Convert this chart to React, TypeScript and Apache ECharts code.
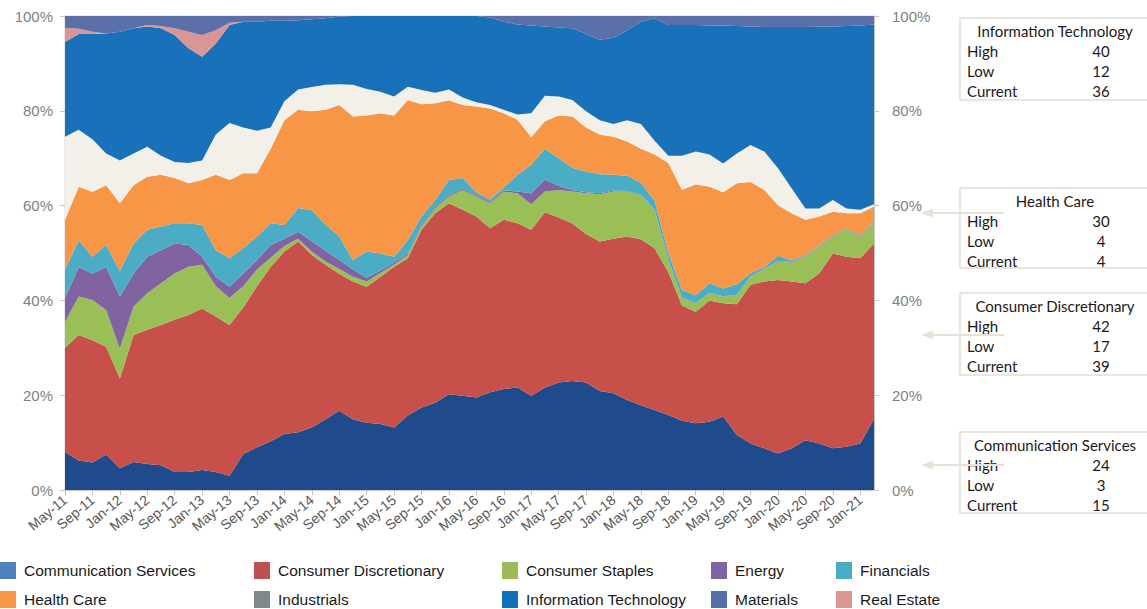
import React, { useEffect, useRef } from "react";
import * as echarts from "echarts";

const dates = [
  "May-11", "Jul-11", "Sep-11", "Nov-11",
  "Jan-12", "Mar-12", "May-12", "Jul-12", "Sep-12", "Nov-12",
  "Jan-13", "Mar-13", "May-13", "Jul-13", "Sep-13", "Nov-13",
  "Jan-14", "Mar-14", "May-14", "Jul-14", "Sep-14", "Nov-14",
  "Jan-15", "Mar-15", "May-15", "Jul-15", "Sep-15", "Nov-15",
  "Jan-16", "Mar-16", "May-16", "Jul-16", "Sep-16", "Nov-16",
  "Jan-17", "Mar-17", "May-17", "Jul-17", "Sep-17", "Nov-17",
  "Jan-18", "Mar-18", "May-18", "Jul-18", "Sep-18", "Nov-18",
  "Jan-19", "Mar-19", "May-19", "Jul-19", "Sep-19", "Nov-19",
  "Jan-20", "Mar-20", "May-20", "Jul-20", "Sep-20", "Nov-20",
  "Jan-21", "Mar-21",
];

const commServices = [
  8.0, 6.2, 5.8, 7.5, 4.6, 5.9, 5.5, 5.2, 3.8, 3.8,
  4.2, 3.8, 3.0, 7.6, 9.0, 10.3, 11.8, 12.2, 13.2, 14.9,
  16.7, 14.9, 14.2, 13.9, 13.2, 15.7, 17.4, 18.4, 20.2, 19.9,
  19.5, 20.6, 21.3, 21.6, 19.9, 21.6, 22.7, 23.0, 22.7, 20.9,
  20.4, 19.0, 17.9, 16.9, 15.8, 14.6, 14.1, 14.4, 15.5, 11.6,
  9.8, 8.8, 7.7, 8.8, 10.5, 9.8, 8.8, 9.1, 9.8, 15.0,
];
const consumerDiscretionary = [
  22.0, 26.5, 25.8, 22.7, 18.9, 26.8, 28.3, 29.6, 32.1, 33.1,
  34.1, 32.8, 31.8, 30.9, 34.0, 36.8, 38.5, 40.2, 36.4, 32.6,
  28.9, 29.1, 28.7, 31.1, 33.9, 33.2, 37.5, 40.0, 40.3, 39.2,
  38.2, 34.6, 35.7, 34.7, 35.0, 37.0, 34.8, 33.2, 31.3, 31.5,
  32.6, 34.5, 35.0, 34.1, 30.2, 24.3, 23.5, 25.6, 23.9, 27.6,
  33.5, 35.2, 36.6, 35.2, 33.1, 35.9, 41.1, 40.1, 39.1, 37.0,
];
const consumerStaples = [
  5.5, 8.1, 8.5, 7.8, 6.3, 6.0, 7.7, 8.8, 9.8, 10.2,
  9.2, 6.4, 5.7, 4.5, 3.5, 1.9, 1.2, 0.6, 0.7, 0.7,
  1.0, 1.0, 1.1, 0.8, 0.5, 0.7, 0.7, 1.0, 1.4, 4.2,
  4.2, 5.3, 5.9, 6.3, 5.4, 4.4, 5.8, 6.8, 8.6, 10.0,
  10.0, 9.5, 9.3, 8.1, 2.5, 1.6, 1.8, 1.5, 1.4, 1.9,
  1.7, 2.6, 3.9, 4.0, 5.6, 5.6, 3.5, 5.7, 4.5, 4.5,
];
const energy = [
  5.0, 6.2, 5.6, 9.1, 11.0, 7.0, 7.7, 7.0, 6.3, 4.6,
  1.7, 2.0, 2.4, 2.7, 2.0, 2.7, 1.5, 1.5, 2.2, 2.3,
  1.9, 1.5, 0.8, 0.5, 0.4, 0.3, 0.3, 0.3, 0.3, 0.3,
  0.3, 0.3, 0.3, 0.4, 2.3, 2.5, 0.9, 0.3, 0.2, 0.2,
  0.2, 0.1, 0.1, 0.1, 0.1, 0.1, 0.1, 0.1, 0.1, 0.1,
  0.1, 0.1, 0.1, 0.1, 0.1, 0.1, 0.1, 0.1, 0.1, 0.1,
];
const financials = [
  6.0, 5.7, 3.5, 4.6, 5.4, 6.3, 5.7, 5.0, 4.3, 4.6,
  6.7, 5.6, 6.0, 5.3, 5.0, 4.6, 2.9, 5.0, 6.5, 5.5,
  5.0, 2.0, 5.5, 3.6, 1.2, 2.8, 1.8, 1.5, 3.2, 2.2,
  0.6, 0.5, 0.6, 3.5, 6.0, 6.5, 5.8, 4.7, 4.4, 4.0,
  3.3, 3.2, 2.5, 1.8, 1.4, 1.6, 1.6, 2.0, 1.6, 2.2,
  0.7, 0.3, 1.1, 0.3, 0.2, 0.2, 0.2, 0.2, 0.2, 0.2,
];
const healthCare = [
  10.5, 11.3, 13.7, 12.6, 14.3, 12.3, 11.2, 10.9, 9.5, 8.4,
  9.5, 15.9, 16.5, 15.8, 13.3, 15.7, 22.1, 20.7, 20.9, 24.2,
  27.7, 30.3, 28.7, 29.6, 29.8, 29.6, 23.7, 20.4, 16.8, 15.4,
  18.1, 19.2, 15.7, 11.6, 5.8, 5.8, 9.0, 10.8, 9.3, 8.4,
  8.0, 7.2, 7.2, 9.8, 19.0, 21.1, 23.4, 20.4, 20.3, 21.3,
  19.2, 16.3, 10.7, 10.0, 7.5, 6.1, 5.0, 3.2, 4.7, 3.0,
];
const industrials = [
  17.5, 12.0, 11.1, 6.7, 9.0, 6.7, 6.3, 4.0, 3.4, 4.3,
  4.1, 8.5, 12.0, 9.7, 9.0, 4.5, 4.0, 4.3, 5.1, 5.3,
  4.4, 6.7, 5.6, 4.5, 4.0, 2.8, 3.0, 2.2, 2.3, 1.6,
  0.9, 0.7, 0.7, 1.1, 5.1, 5.4, 4.0, 3.5, 3.4, 3.0,
  2.7, 4.5, 5.2, 2.9, 1.5, 7.2, 6.9, 6.8, 6.1, 6.3,
  7.8, 8.1, 7.8, 5.2, 2.4, 1.7, 2.5, 1.0, 0.7, 0.5,
];
const informationTechnology = [
  20.0, 20.2, 22.2, 25.3, 27.2, 26.4, 25.4, 26.9, 26.8, 24.2,
  21.9, 19.2, 20.7, 22.3, 23.0, 22.5, 17.0, 14.6, 14.3, 14.0,
  14.3, 14.5, 15.4, 16.0, 17.0, 14.9, 15.6, 16.2, 15.5, 17.2,
  18.2, 18.5, 18.6, 19.0, 18.5, 14.6, 14.6, 15.1, 16.3, 17.0,
  18.2, 19.0, 21.6, 25.8, 27.6, 27.6, 26.7, 27.2, 29.1, 26.9,
  25.0, 26.3, 29.8, 34.1, 38.3, 38.4, 36.6, 38.5, 38.9, 37.9,
];
const realEstate = [
  3.0, 1.1, 0.5, 0, 0, 0, 0.3, 0.5, 1.4, 3.5,
  4.6, 2.8, 0.5, 0, 0, 0, 0, 0, 0, 0,
  0, 0, 0, 0, 0, 0, 0, 0, 0, 0,
  0, 0, 0, 0, 0, 0, 0, 0, 0, 0,
  0, 0, 0, 0, 0, 0, 0, 0, 0, 0,
  0, 0, 0, 0, 0, 0, 0, 0, 0, 0,
];
const materials = [
  2.5, 2.7, 3.3, 3.7, 3.3, 2.6, 1.9, 2.1, 2.6, 3.3,
  4.0, 3.0, 1.4, 1.2, 1.2, 1.0, 1.0, 0.9, 0.7, 0.5,
  0.1, 0, 0, 0, 0, 0, 0, 0, 0, 0,
  0, 0.3, 1.2, 1.8, 2.0, 2.2, 2.4, 2.6, 3.8, 5.0,
  4.6, 3.0, 1.2, 0.5, 1.9, 1.9, 1.9, 2.0, 2.0, 2.1,
  2.2, 2.3, 2.3, 2.3, 2.3, 2.2, 2.2, 2.1, 2.0, 1.8,
];

const yTicks = [0, 20, 40, 60, 80, 100];

// stacking order bottom -> top
const sectors = [
  { name: "Communication Services", data: commServices, area: "#1f4b8d", legend: "#4f81bd" },
  { name: "Consumer Discretionary", data: consumerDiscretionary, area: "#c8504b", legend: "#c0504d" },
  { name: "Consumer Staples", data: consumerStaples, area: "#9bbf57", legend: "#9bbb59" },
  { name: "Energy", data: energy, area: "#8064a2", legend: "#8064a2" },
  { name: "Financials", data: financials, area: "#4bacc6", legend: "#4bacc6" },
  { name: "Health Care", data: healthCare, area: "#f79646", legend: "#f79646" },
  { name: "Industrials", data: industrials, area: "#f2f0e8", legend: "#7f8a8e" },
  { name: "Information Technology", data: informationTechnology, area: "#1871b9", legend: "#1170bc" },
  { name: "Real Estate", data: realEstate, area: "#da9694", legend: "#da9694" },
  { name: "Materials", data: materials, area: "#5b6fa8", legend: "#5470a8" },
];

const legendColumns = [
  ["Communication Services", "Health Care"],
  ["Consumer Discretionary", "Industrials"],
  ["Consumer Staples", "Information Technology"],
  ["Energy", "Materials"],
  ["Financials", "Real Estate"],
];

const boxTitles = ["Information Technology", "Health Care", "Consumer Discretionary", "Communication Services"];
const boxHigh = [40, 30, 42, 24];
const boxLow = [12, 4, 17, 3];
const boxCurrent = [36, 4, 39, 15];

export default function App() {
  const ref = useRef<HTMLDivElement>(null);

  useEffect(() => {
    if (!ref.current) return;
    const chart = echarts.init(ref.current, undefined, { renderer: "svg" });

    const legendColorOf: Record<string, string> = {};
    sectors.forEach((s) => (legendColorOf[s.name] = s.legend));

    const legendLefts = [0, 254, 502, 711, 836];
    const legends = legendColumns.map((col, ci) => ({
      show: true,
      orient: "vertical",
      left: legendLefts[ci],
      top: 562,
      height: 46,
      padding: 0,
      itemWidth: 16,
      itemHeight: 17,
      itemGap: 12,
      icon: "rect",
      selectedMode: false,
      textStyle: {
        fontSize: 15.5,
        color: "#1a1a1a",
        fontFamily: "Liberation Sans",
        padding: [0, 0, 0, 3],
      },
      data: col.map((n) => ({ name: n, itemStyle: { color: legendColorOf[n] } })),
    }));

    const boxTops = [18, 188, 293, 432];
    const boxHeights = [82, 80, 82, 81];
    const graphics: any[] = [];
    boxTitles.forEach((t, k) => {
      const top = boxTops[k];
      graphics.push({
        type: "rect",
        z: 10,
        shape: { x: 960, y: top, width: 200, height: boxHeights[k] },
        style: { fill: "#ffffff", stroke: "#e2ded2", lineWidth: 1.5 },
      });
      const rowYs = [top + 13, top + 33, top + 53, top + 73];
      graphics.push({
        type: "text", z: 11,
        style: { text: t, x: 1055, y: rowYs[0], textAlign: "center", textVerticalAlign: "middle", fontSize: 15, fontFamily: "Lato", fill: "#1a1a1a" },
      });
      const labels = ["High", "Low", "Current"];
      const vals = [boxHigh[k], boxLow[k], boxCurrent[k]];
      labels.forEach((lb, r) => {
        graphics.push({
          type: "text", z: 11,
          style: { text: lb, x: 967, y: rowYs[r + 1], textAlign: "left", textVerticalAlign: "middle", fontSize: 15, fontFamily: "Lato", fill: "#1a1a1a" },
        });
        graphics.push({
          type: "text", z: 11,
          style: { text: String(vals[r]), x: 1101, y: rowYs[r + 1], textAlign: "center", textVerticalAlign: "middle", fontSize: 15, fontFamily: "Lato", fill: "#1a1a1a" },
        });
      });
    });
    const arrowYs = [213, 335, 465];
    arrowYs.forEach((ay) => {
      graphics.push({
        type: "line", z: 12,
        shape: { x1: 1004, y1: ay, x2: 930, y2: ay },
        style: { stroke: "#e6e2d6", lineWidth: 2 },
      });
      graphics.push({
        type: "polygon", z: 12,
        shape: { points: [[921, ay], [933, ay - 4.5], [933, ay + 4.5]] },
        style: { fill: "#e6e2d6" },
      });
    });

    const yAxisBase = {
      type: "value",
      min: 0,
      max: 100,
      interval: 20,
      splitLine: { show: false },
      axisLine: { show: true, lineStyle: { color: "#c4c4c4", width: 1 } },
      axisTick: { show: true, length: 5, lineStyle: { color: "#c4c4c4" } },
    };

    chart.setOption({
      animation: false,
      backgroundColor: "#ffffff",
      grid: {
        left: 65,
        top: 16,
        width: 809,
        height: 474,
        show: true,
        borderColor: "#d6d6d6",
        borderWidth: 1,
        backgroundColor: "transparent",
      },
      legend: legends,
      xAxis: {
        type: "category",
        data: dates,
        boundaryGap: false,
        axisLine: { show: true, lineStyle: { color: "#c4c4c4", width: 1.5 } },
        axisTick: { show: true, interval: 1, length: 5, lineStyle: { color: "#c4c4c4" } },
        axisLabel: {
          interval: 1,
          rotate: 40,
          margin: 8,
          fontSize: 14,
          color: "#595959",
          fontFamily: "Liberation Sans",
        },
      },
      yAxis: [
        {
          ...yAxisBase,
          position: "left",
          axisLabel: {
            formatter: (v: number) => (yTicks.includes(v) ? v + "%" : ""),
            margin: 12,
            fontSize: 15,
            color: "#7f7f7f",
            fontFamily: "Liberation Sans",
          },
        },
        {
          ...yAxisBase,
          position: "right",
          axisLabel: {
            formatter: (v: number) => (yTicks.includes(v) ? v + "%" : ""),
            margin: 18,
            fontSize: 15,
            color: "#7f7f7f",
            fontFamily: "Liberation Sans",
          },
        },
      ],
      series: sectors.map((s) => ({
        name: s.name,
        type: "line",
        stack: "total",
        yAxisIndex: 0,
        data: s.data,
        symbol: "none",
        showSymbol: false,
        smooth: false,
        lineStyle: { width: 0, color: s.area },
        itemStyle: { color: s.legend },
        areaStyle: { color: s.area, opacity: 1 },
        emphasis: { disabled: true },
      })),
      graphic: graphics,
    });

    return () => chart.dispose();
  }, []);

  return (
    <div
      ref={ref}
      style={{ position: "fixed", left: 0, top: 0, width: 1147, height: 609, background: "#fff" }}
    />
  );
}
